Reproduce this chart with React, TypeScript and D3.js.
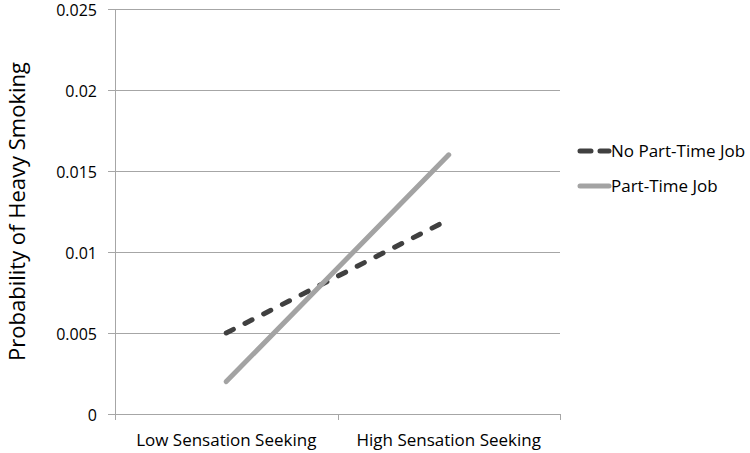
import React, { useEffect, useRef } from 'react';
import * as d3 from 'd3';

const categories = ['Low Sensation Seeking', 'High Sensation Seeking'];
const noJob = [0.005, 0.012];
const partTime = [0.002, 0.016];
const yTicks = [0, 0.005, 0.01, 0.015, 0.02, 0.025];

const series = [
  { name: 'No Part-Time Job', values: noJob, color: '#404040', dash: '8 13' },
  { name: 'Part-Time Job', values: partTime, color: '#a3a3a3', dash: null },
];

const App = () => {
  const ref = useRef<SVGSVGElement>(null);

  useEffect(() => {
    const svg = d3.select(ref.current);
    svg.selectAll('*').remove();

    const left = 115;
    const right = 560;
    const top = 9;
    const bottom = 414;
    const font = '"Open Sans", "Noto Sans", sans-serif';

    const x = d3.scaleBand().domain(categories).range([left, right]);
    const y = d3.scaleLinear().domain([0, 0.025]).range([bottom, top]);

    // gridlines
    svg
      .append('g')
      .selectAll('line')
      .data(yTicks)
      .enter()
      .append('line')
      .attr('x1', left - 7)
      .attr('x2', right)
      .attr('y1', (d) => Math.round(y(d)) + 0.5)
      .attr('y2', (d) => Math.round(y(d)) + 0.5)
      .attr('stroke', '#a6a6a6')
      .attr('stroke-width', 1);

    // y axis line
    svg
      .append('line')
      .attr('x1', left + 0.5)
      .attr('x2', left + 0.5)
      .attr('y1', top)
      .attr('y2', bottom)
      .attr('stroke', '#a6a6a6');

    // x category ticks
    const bounds = [left, left + x.bandwidth(), right];
    svg
      .append('g')
      .selectAll('line')
      .data(bounds)
      .enter()
      .append('line')
      .attr('x1', (d) => Math.round(d) + 0.5)
      .attr('x2', (d) => Math.round(d) + 0.5)
      .attr('y1', bottom)
      .attr('y2', bottom + 6)
      .attr('stroke', '#a6a6a6');

    // y tick labels
    svg
      .append('g')
      .selectAll('text')
      .data(yTicks)
      .enter()
      .append('text')
      .attr('x', 97)
      .attr('y', (d) => y(d) + 1)
      .attr('dy', '0.35em')
      .attr('text-anchor', 'end')
      .style('font-family', font)
      .style('font-size', '16px')
      .attr('fill', '#000')
      .text((d) => (d === 0 ? '0' : String(d)));

    // x labels
    svg
      .append('g')
      .selectAll('text')
      .data(categories)
      .enter()
      .append('text')
      .attr('x', (d) => x(d)! + x.bandwidth() / 2)
      .attr('y', 446)
      .attr('text-anchor', 'middle')
      .style('font-family', font)
      .style('font-size', '17px')
      .attr('fill', '#000')
      .text((d) => d);

    // y title
    svg
      .append('text')
      .attr('transform', `translate(25,${(top + bottom) / 2}) rotate(-90)`)
      .attr('text-anchor', 'middle')
      .style('font-family', font)
      .style('font-size', '22px')
      .attr('fill', '#000')
      .text('Probability of Heavy Smoking');

    const line = d3
      .line<number>()
      .x((d, i) => x(categories[i])! + x.bandwidth() / 2)
      .y((d) => y(d));

    series.forEach((s) => {
      svg
        .append('path')
        .attr('d', line(s.values))
        .attr('fill', 'none')
        .attr('stroke', s.color)
        .attr('stroke-width', 5)
        .attr('stroke-linecap', 'round')
        .attr('stroke-dasharray', s.dash);
    });

    // legend
    const legend = svg
      .append('g')
      .selectAll('g')
      .data(series)
      .enter()
      .append('g')
      .attr('transform', (d, i) => `translate(578,${151 + i * 35})`);

    legend
      .append('line')
      .attr('x1', 2)
      .attr('x2', 31)
      .attr('stroke', (d) => d.color)
      .attr('stroke-width', 5)
      .attr('stroke-linecap', 'round')
      .attr('stroke-dasharray', (d) => (d.dash ? '11 9' : null));

    legend
      .append('text')
      .attr('x', 33)
      .attr('dy', '0.35em')
      .style('font-family', font)
      .style('font-size', '17px')
      .attr('fill', '#000')
      .text((d) => d.name);
  }, []);

  return (
    <svg
      ref={ref}
      width={750}
      height={453}
      style={{ position: 'absolute', left: 0, top: 0, background: '#fff' }}
    />
  );
};

export default App;
